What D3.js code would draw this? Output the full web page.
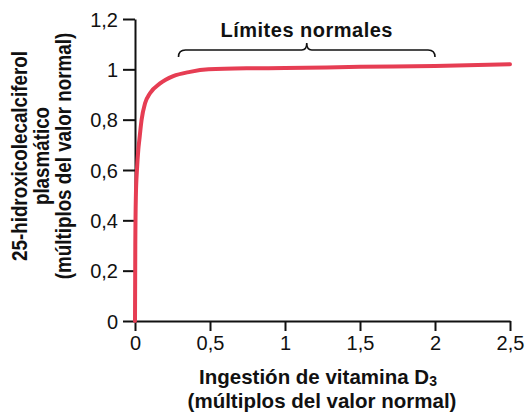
<!DOCTYPE html>
<html><head><meta charset="utf-8">
<script src="https://d3js.org/d3.v7.min.js"></script>
<style>
body{margin:0;background:#fff;}
svg{display:block;font-family:"Liberation Sans",Arial,Helvetica,sans-serif;}
</style></head><body>
<svg id="c" width="527" height="412"></svg>
<script>
const xTicks = [0, 0.5, 1, 1.5, 2, 2.5];
const xTickLabels = ["0", "0,5", "1", "1,5", "2", "2,5"];
const yTicks = [0, 0.2, 0.4, 0.6, 0.8, 1, 1.2];
const yTickLabels = ["0", "0,2", "0,4", "0,6", "0,8", "1", "1,2"];
const intake = [0, 0.002, 0.006, 0.013, 0.022, 0.029, 0.044, 0.067, 0.10, 0.167, 0.255, 0.367, 0.49, 0.75, 1.0, 1.5, 2.0, 2.5];
const plasma = [0, 0.3, 0.5, 0.6, 0.68, 0.72, 0.80, 0.865, 0.905, 0.944, 0.973, 0.99, 1.0, 1.004, 1.005, 1.01, 1.013, 1.02];
const normalRange = [0.29, 2.0];
const normalLabel = "Límites normales";
const xTitle = ["Ingestión de vitamina D", "3", "(múltiplos del valor normal)"];
const yTitle = ["25-hidroxicolecalciferol", "plasmático", "(múltiplos del valor normal)"];

const svg = d3.select("#c");
const x = d3.scaleLinear().domain([0, 2.5]).range([135, 510]);
const y = d3.scaleLinear().domain([0, 1.2]).range([321, 19]);

const xAxis = svg.append("g").attr("transform", `translate(0,${y(0)})`)
  .call(d3.axisBottom(x).tickValues(xTicks).tickFormat((d,i)=>xTickLabels[i]).tickSize(10).tickSizeOuter(0).tickPadding(5));
const yAxis = svg.append("g").attr("transform", `translate(${x(0)},0)`)
  .call(d3.axisLeft(y).tickValues(yTicks).tickFormat((d,i)=>yTickLabels[i]).tickSize(12).tickSizeOuter(0).tickPadding(5));
[xAxis, yAxis].forEach(g => {
  g.select(".domain").attr("stroke", "#111").attr("stroke-width", 2);
  g.selectAll(".tick line").attr("stroke", "#111").attr("stroke-width", 2);
  g.selectAll(".tick text").attr("fill", "#111").style("font-size", "20px").style("font-family", "'Liberation Sans',Arial,sans-serif");
});
yAxis.selectAll(".tick text").attr("dy", "0.36em");

const pts = intake.map((v,i)=>[v, plasma[i]]);
svg.append("path").datum(pts)
  .attr("fill", "none").attr("stroke", "#e63d53").attr("stroke-width", 4).attr("stroke-linecap", "round")
  .attr("d", d3.line().x(d=>x(d[0])).y(d=>y(d[1])).curve(d3.curveMonotoneX));

// brace
const bx0 = x(normalRange[0]), bx1 = x(normalRange[1]), bm = (bx0+bx1)/2;
const by = 50;
svg.append("path")
  .attr("fill", "none").attr("stroke", "#111").attr("stroke-width", 1.6)
  .attr("d", `M${bx0},${by+7} Q${bx0},${by} ${bx0+7},${by} L${bm-5},${by} Q${bm},${by} ${bm},${by-7} Q${bm},${by} ${bm+5},${by} L${bx1-7},${by} Q${bx1},${by} ${bx1},${by+7}`);
svg.append("text").attr("x", bm).attr("y", 37).attr("text-anchor", "middle")
  .style("font-size", "20px").style("font-weight", "bold").style("letter-spacing", "0.5px").attr("fill", "#111").text(normalLabel);

// x title
const xt = svg.append("text").attr("x", 318).attr("y", 384).attr("text-anchor", "middle")
  .style("font-size", "20.5px").style("font-weight", "bold").attr("fill", "#111");
xt.append("tspan").text(xTitle[0]);
xt.append("tspan").attr("dy", 2).style("font-size", "14px").text(xTitle[1]);
svg.append("text").attr("x", 322).attr("y", 408).attr("text-anchor", "middle")
  .style("font-size", "20.5px").style("font-weight", "bold").attr("fill", "#111").text(xTitle[2]);

// y title (slightly widened glyphs as in the reference)
const sy = 1.15;
const yt = svg.append("g").attr("transform", `translate(0,156) rotate(-90) scale(1,${sy})`);
[27, 49, 71].forEach((bx,i)=>{
  yt.append("text").attr("x", 0).attr("y", bx/sy).attr("text-anchor", "middle")
    .style("font-size", "18.8px").style("font-weight", "bold").attr("fill", "#111").text(yTitle[i]);
});
</script>
</body></html>
